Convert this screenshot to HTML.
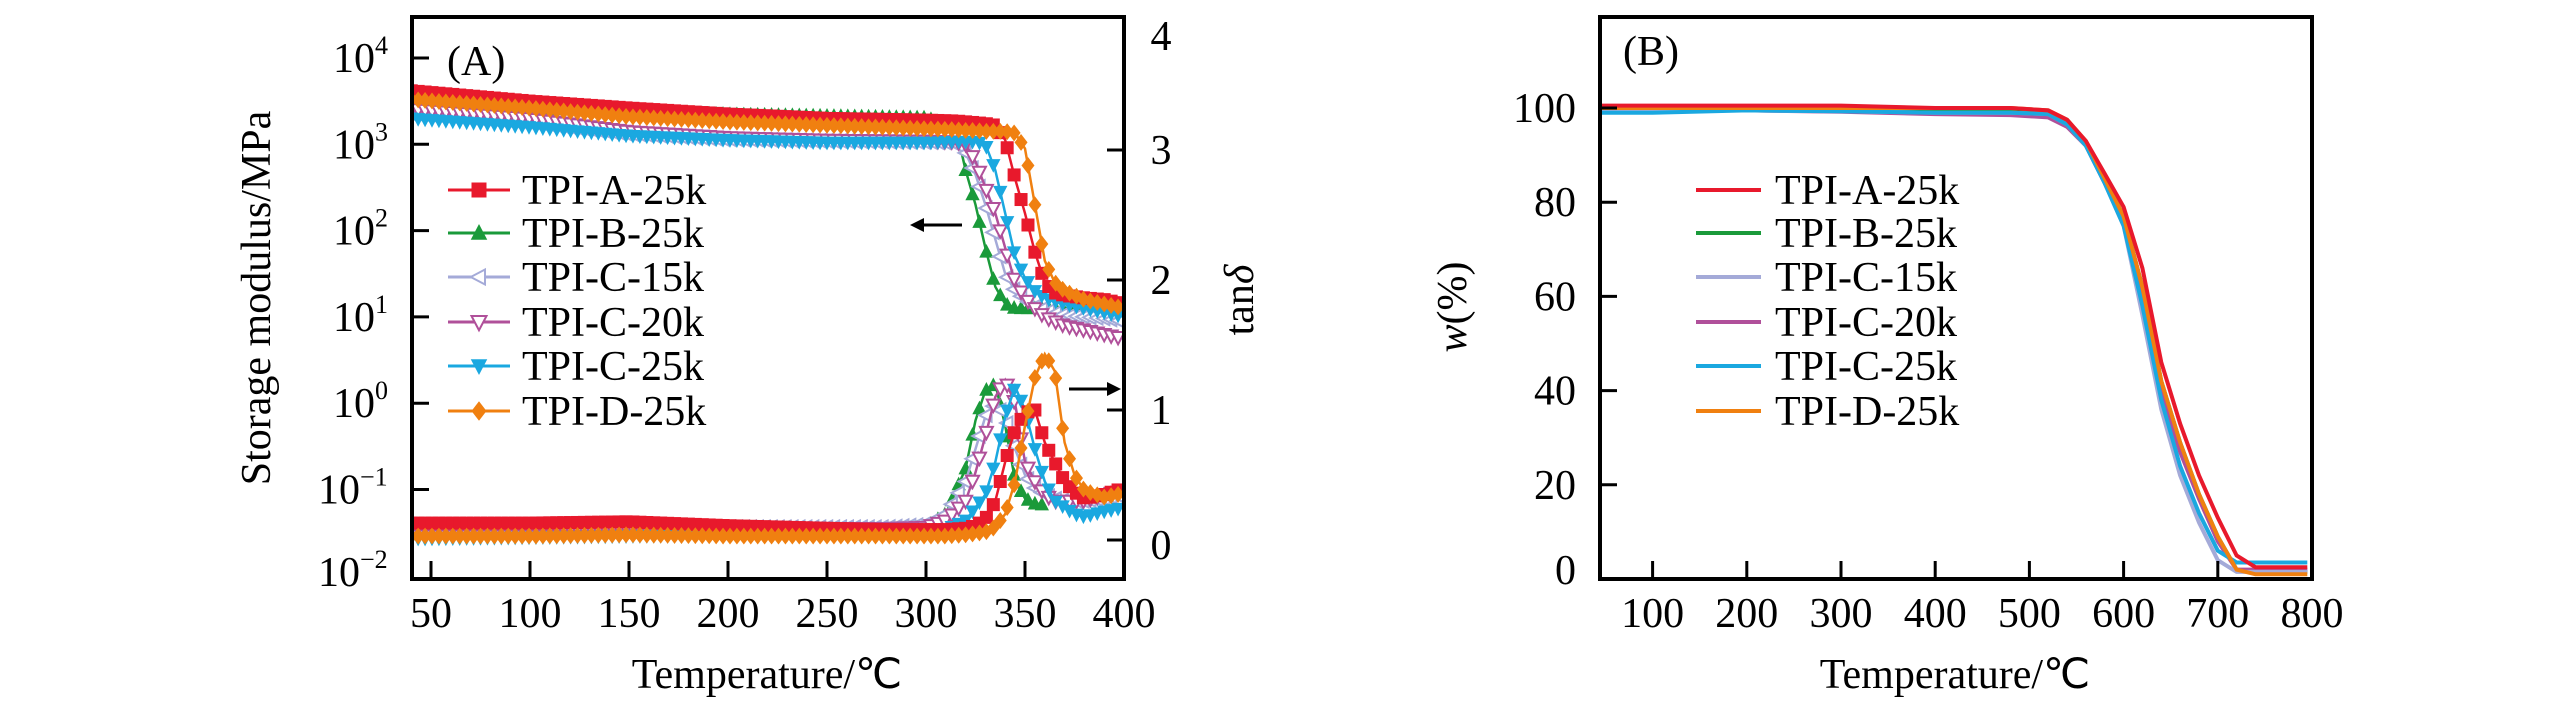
<!DOCTYPE html>
<html><head><meta charset="utf-8"><style>
html,body{margin:0;padding:0;background:#fff;}
svg{display:block;font-family:"Liberation Serif",serif;}
</style></head><body>
<svg id="chart" width="2567" height="709" viewBox="0 0 2567 709" xmlns="http://www.w3.org/2000/svg">
<defs>
<clipPath id="clipA"><rect x="412" y="17" width="712" height="562"/></clipPath>
<clipPath id="clipB"><rect x="1600" y="17" width="712" height="562"/></clipPath>
</defs>
</svg>
<script>
// ---- Panel A data ----
const seriesNames = ["TPI-A-25k","TPI-B-25k","TPI-C-15k","TPI-C-20k","TPI-C-25k","TPI-D-25k"];
const xTicksA = [50,100,150,200,250,300,350,400];
const yTicksA = [-2,-1,0,1,2,3,4];
const yTicksTan = [0,1,2,3,4];
const modTemps = [40,100,150,200,250,300,315,320,325,330,335,340,345,350,355,360,365,370,380,390,400];
const modA = [3.62,3.5,3.42,3.35,3.3,3.28,3.27,3.26,3.25,3.24,3.22,3.05,2.6,2.2,1.75,1.4,1.28,1.25,1.22,1.2,1.15];
const modB = [3.47,3.42,3.38,3.35,3.33,3.31,3.2,2.7,2.3,1.8,1.35,1.15,1.1,1.1,1.1,1.1,1.1,1.1,1.1,1.1,1.1];
const modC15 = [3.35,3.25,3.12,3.06,3.04,3.03,3.02,2.9,2.65,2.3,1.9,1.5,1.3,1.2,1.12,1.08,1.05,1.02,1.0,0.98,0.95];
const modC20 = [3.41,3.3,3.15,3.08,3.05,3.04,3.03,3.0,2.8,2.5,2.2,1.8,1.4,1.22,1.1,1.0,0.95,0.9,0.85,0.8,0.75];
const modC25 = [3.3,3.2,3.1,3.05,3.02,3.02,3.03,3.03,3.03,3.0,2.7,2.2,1.7,1.45,1.3,1.22,1.18,1.15,1.1,1.05,1.0];
const modD = [3.52,3.42,3.32,3.26,3.22,3.18,3.17,3.16,3.16,3.15,3.15,3.15,3.13,2.95,2.3,1.65,1.4,1.3,1.2,1.15,1.1];
const tanTemps = [40,100,150,200,250,280,300,310,320,325,330,335,340,345,350,355,360,365,370,375,380,390,400];
const tanA = [0.13,0.13,0.14,0.11,0.09,0.08,0.08,0.08,0.09,0.11,0.16,0.3,0.6,0.85,0.98,1.0,0.75,0.6,0.45,0.37,0.32,0.35,0.4];
const tanB = [0.1,0.1,0.1,0.08,0.08,0.08,0.1,0.2,0.55,0.92,1.15,1.2,0.88,0.46,0.32,0.28,0.27,null,null,null,null,null,null];
const tanC15 = [0.1,0.1,0.1,0.1,0.1,0.1,0.12,0.2,0.45,0.7,0.95,1.05,0.95,0.7,0.5,0.4,0.35,0.32,0.3,0.3,0.3,0.32,0.35];
const tanC20 = [0.09,0.09,0.09,0.09,0.09,0.09,0.1,0.15,0.3,0.52,0.8,1.1,1.23,1.05,0.6,0.45,0.35,0.3,0.3,0.3,0.3,0.35,0.38];
const tanC25 = [0.01,0.02,0.03,0.03,0.04,0.05,0.06,0.08,0.15,0.25,0.35,0.6,0.95,1.18,1.0,0.7,0.45,0.3,0.25,0.2,0.18,0.22,0.25];
const tanD = [0.03,0.03,0.04,0.03,0.03,0.03,0.03,0.03,0.04,0.05,0.06,0.1,0.2,0.45,0.88,1.25,1.43,1.3,0.75,0.5,0.38,0.33,0.36];
// ---- Panel B data ----
const xTicksB = [100,200,300,400,500,600,700,800];
const yTicksB = [0,20,40,60,80,100];
const tgaTemps = [45,100,200,300,400,480,520,540,560,580,600,620,640,660,680,700,720,740,795];
const tgaA = [100.5,100.5,100.5,100.5,100,100,99.5,97.5,93,86,79,66,46,33,22,13,5,2.5,2.5];
const tgaB = [99.5,99.5,99.5,99.5,99.3,99.3,99,97,92.5,85,77,62,42,29,18,9,2,1.5,1.5];
const tgaC15 = [99.5,99.5,99.5,99.3,99,99,98.7,96.5,92,84,75,56,36,22,12,4,1.5,1.5,1.5];
const tgaC20 = [99.5,99.5,99.5,99.2,98.7,98.5,98,96,92,84,76,60,40,27,17,8,2,2,2];
const tgaC25 = [99,99,99.5,99.3,99,99,98.7,96.5,92,84,75,58,38,24,14,6,3.5,3.5,3.5];
const tgaD = [100,100,100,100,100,100,99.5,97.5,93,85,77,62,42,29,18,9,2,1,1];

const colors = ["#e8192c","#1a9a3a","#a4aad8","#b0509a","#1aa8e0","#f08010"];
const markers = ["square","tri-up","tri-left","tri-down-open","tri-down","diamond"];

const NS="http://www.w3.org/2000/svg";
const svg=document.getElementById('chart');
function mk(tag,attrs,parent){const e=document.createElementNS(NS,tag);for(const k in attrs)e.setAttribute(k,attrs[k]);(parent||svg).appendChild(e);return e;}

// axis functions
const xA=t=>412+(t-40.4)*(712/359.6);
const yLog=v=>58+(4-v)*86.3;
const yTan=v=>540-v*130;
const xB=t=>2312-(800-t)*0.942;
const yB=v=>579-v*4.71;

function interp(ts,vs,t){for(let i=0;i<ts.length-1;i++){if(t>=ts[i]&&t<=ts[i+1]){if(vs[i]==null||vs[i+1]==null)return null;return vs[i]+(vs[i+1]-vs[i])*(t-ts[i])/(ts[i+1]-ts[i]);}}return null;}

function marker(g,type,x,y,c,s){
  s=s||6.5;let e;
  if(type==="square")e=mk('rect',{x:x-s,y:y-s,width:2*s,height:2*s,fill:c},g);
  else if(type==="tri-up")e=mk('polygon',{points:`${x},${y-s*1.2} ${x-s*1.1},${y+s*0.9} ${x+s*1.1},${y+s*0.9}`,fill:c},g);
  else if(type==="tri-down")e=mk('polygon',{points:`${x},${y+s*1.2} ${x-s*1.1},${y-s*0.9} ${x+s*1.1},${y-s*0.9}`,fill:c},g);
  else if(type==="tri-down-open")e=mk('polygon',{points:`${x},${y+s*1.1} ${x-s},${y-s*0.8} ${x+s},${y-s*0.8}`,fill:"#fff",stroke:c,'stroke-width':2},g);
  else if(type==="tri-left")e=mk('polygon',{points:`${x-s*1.1},${y} ${x+s*0.8},${y-s} ${x+s*0.8},${y+s}`,fill:"#fff",stroke:c,'stroke-width':2},g);
  else e=mk('polygon',{points:`${x},${y-s*1.3} ${x+s},${y} ${x},${y+s*1.3} ${x-s},${y}`,fill:c},g);
  
  
}

function drawSeries(g,ts,vs,fx,fy,c,mtype,name,step){
  let d="";let pen=false;
  for(let i=0;i<ts.length;i++){if(vs[i]==null){pen=false;continue;}d+=(pen?"L":"M")+fx(ts[i]).toFixed(1)+","+fy(vs[i]).toFixed(1);pen=true;}
  const p=mk('path',{d:d,fill:"none",stroke:c,'stroke-width':mtype?2.5:4},g);
  
  
  if(mtype){for(let t=ts[0];t<=ts[ts.length-1];t+=step){const v=interp(ts,vs,t);if(v==null)continue;marker(g,mtype,fx(t),fy(v),c);}}
}

function text(str,x,y,size,anchor,name,extra){
  const t=mk('text',Object.assign({x:x,y:y,'font-size':size,'text-anchor':anchor||'middle',fill:'#000'},extra||{}));
  t.textContent=str;
  
  
  return t;
}

// ===== Panel A =====
const gA=mk('g',{'clip-path':'url(#clipA)'});


const modSets=[modA,modB,modC15,modC20,modC25,modD];
const tanSets=[tanA,tanB,tanC15,tanC20,tanC25,tanD];
const drawOrder=[1,2,3,4,0,5];
drawOrder.forEach(i=>drawSeries(gA,tanTemps,tanSets[i],xA,yTan,colors[i],markers[i],'tan-delta-'+seriesNames[i].toLowerCase(),3.5));
drawOrder.forEach(i=>drawSeries(gA,modTemps,modSets[i],xA,yLog,colors[i],markers[i],'modulus-'+seriesNames[i].toLowerCase(),3.5));

const frameA=mk('rect',{x:412,y:17,width:712,height:562,fill:'none',stroke:'#000','stroke-width':4});


xTicksA.forEach(t=>{
  const l=mk('line',{x1:xA(t),x2:xA(t),y1:579,y2:561,stroke:'#000','stroke-width':3});
  
  
  text(String(t),xA(t),627,42,'middle','x-tick-label');
});
yTicksA.forEach(v=>{
  const y=yLog(v);
  if(v>-2){const l=mk('line',{x1:412,x2:429,y1:y,y2:y,stroke:'#000','stroke-width':3});
  
  }
  const ty=v===-2?Math.min(y,572)+14:y+14;
  const t=text('10',368,ty,42,'end','y-tick-label');
  const s=mk('tspan',{'font-size':26,dy:-18});s.textContent=String(v).replace('-','\u2212');
  t.appendChild(s);
  t.setAttribute('text-anchor','start');t.setAttribute('x',v<0?318:333);
});
yTicksTan.forEach(v=>{
  const y=yTan(v);
  if(v<4){const l=mk('line',{x1:1107,x2:1124,y1:y,y2:y,stroke:'#000','stroke-width':3});
  
  }
  text(String(v),1161,(v===4?36:v===0?545:y)+14,42,'middle','y2-tick-label');
});
text('Temperature/\u2103',767,688,42,'middle','x-axis-title');
text('Storage modulus/MPa',0,0,42,'middle','y-axis-title',{transform:'translate(270,298) rotate(-90)'});
const tt=text('tan',0,0,42,'middle','y2-axis-title',{transform:'translate(1253,300) rotate(-90)'});
const ts2=mk('tspan',{'font-style':'italic'});ts2.textContent='\u03B4';tt.appendChild(ts2);
text('(A)',447,75,42,'start','panel-a-label');
// arrows
const ar1=mk('g',{});
mk('line',{x1:917,x2:962,y1:225,y2:225,stroke:'#000','stroke-width':3},ar1);
mk('polygon',{points:'910,225 924,218 924,232',fill:'#000'},ar1);
const ar2=mk('g',{});
mk('line',{x1:1069,x2:1114,y1:389,y2:389,stroke:'#000','stroke-width':3},ar2);
mk('polygon',{points:'1121,389 1107,382 1107,396',fill:'#000'},ar2);

const legRows=[190,233,277,322,366,411];
seriesNames.forEach((n,i)=>{
  const g=mk('g',{});
  
  
  mk('line',{x1:448,x2:510,y1:legRows[i],y2:legRows[i],stroke:colors[i],'stroke-width':3},g);
  marker(g,markers[i],479,legRows[i],colors[i],7.5);
  const t=text(n,522,legRows[i]+14,42,'start','legend-label');g.appendChild(t);
});

// ===== Panel B =====
const gB=mk('g',{'clip-path':'url(#clipB)'});


const tgaSets=[tgaA,tgaB,tgaC15,tgaC20,tgaC25,tgaD];
[1,3,2,4,5,0].forEach(i=>drawSeries(gB,tgaTemps,tgaSets[i],xB,yB,colors[i],null,'tga-'+seriesNames[i].toLowerCase(),0));
const frameB=mk('rect',{x:1600,y:17,width:712,height:562,fill:'none',stroke:'#000','stroke-width':4});


xTicksB.forEach(t=>{
  if(t<800){const l=mk('line',{x1:xB(t),x2:xB(t),y1:579,y2:561,stroke:'#000','stroke-width':3});
  
  }
  text(String(t),xB(t),627,42,'middle','x-tick-label');
});
yTicksB.forEach(v=>{
  if(v>0){const l=mk('line',{x1:1600,x2:1617,y1:yB(v),y2:yB(v),stroke:'#000','stroke-width':3});
  
  }
  text(String(v),1576,(v===0?570:yB(v))+14,42,'end','y-tick-label');
});
text('Temperature/\u2103',1955,688,42,'middle','x-axis-title');
const wt=text('',0,0,42,'middle','y-axis-title',{transform:'translate(1466,307) rotate(-90)'});
const w1=mk('tspan',{'font-style':'italic'});w1.textContent='w';wt.appendChild(w1);
const w2=mk('tspan',{});w2.textContent='(%)';wt.appendChild(w2);
text('(B)',1623,65,42,'start','panel-b-label');
seriesNames.forEach((n,i)=>{
  const g=mk('g',{});
  
  
  mk('line',{x1:1696,x2:1761,y1:legRows[i],y2:legRows[i],stroke:colors[i],'stroke-width':4},g);
  const t=text(n,1775,legRows[i]+14,42,'start','legend-label');g.appendChild(t);
});
</script>
</body></html>
